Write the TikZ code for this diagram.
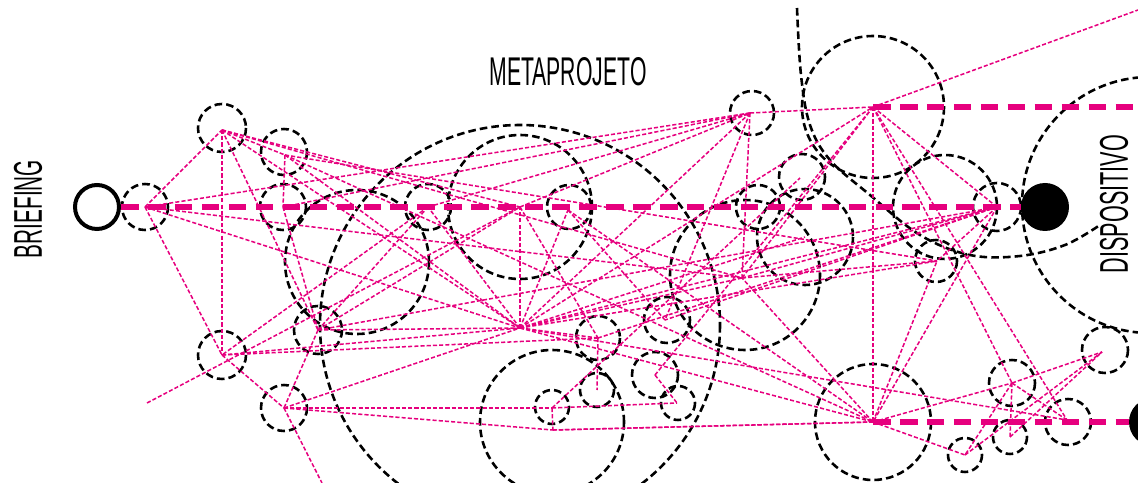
\documentclass[tikz,border=0pt]{standalone}
\usepackage{fontspec}
\setmainfont{Liberation Sans}
\usepackage{graphicx}
\definecolor{pk}{RGB}{230,0,126}
\begin{document}
\begin{tikzpicture}[x=0.03cm,y=-0.03cm,
  blk/.style={draw=black,line width=2.2pt,dash pattern=on 6.5pt off 3.5pt},
  pkl/.style={draw=pk,line width=1.3pt,dash pattern=on 3.5pt off 1.8pt},
  pkt/.style={draw=pk,line width=4.5pt,dash pattern=on 15pt off 8pt},
  lbl/.style={inner sep=0pt,text=black},
  endc/.style={circle,draw=black,inner sep=0pt,minimum size=1.32cm,line width=3.4pt},
  endf/.style={circle,fill=black,inner sep=0pt,minimum size=1.44cm}]
\useasboundingbox (0,0) rectangle (1138,483);
\clip (0,0) rectangle (1138,483);
% hubs
\coordinate (A) at (145,207);
\coordinate (B) at (222,130);
\coordinate (C) at (285,155);
\coordinate (D) at (283,207);
\coordinate (E) at (222,355);
\coordinate (F) at (318,330);
\coordinate (G) at (284,408);
\coordinate (H) at (520,328);
\coordinate (I) at (520,207);
\coordinate (J) at (568,210);
\coordinate (K) at (428,207);
\coordinate (L) at (750,113);
\coordinate (M) at (873,107);
\coordinate (N) at (997,207);
\coordinate (O) at (873,422);
\coordinate (P) at (1012,383);
\coordinate (Q) at (965,455);
\coordinate (R) at (1102,352);
\coordinate (S) at (1010,437);
\coordinate (T) at (1067,420);
\coordinate (V) at (742,278);
\coordinate (W) at (598,338);
\coordinate (W2) at (597,390);
\coordinate (X) at (665,320);
\coordinate (Y) at (552,408);
\coordinate (Y2) at (553,430);
\coordinate (Z) at (655,375);
\coordinate (Z2) at (677,403);
\coordinate (U) at (937,261);
\coordinate (U2) at (805,237);
\coordinate (U3) at (800,178);
\coordinate (e1) at (147,403);
\coordinate (e2) at (322,483);
\coordinate (e3) at (1138,10);
\coordinate (e4) at (1138,107);
% black dashed circles
\foreach \cx/\cy/\r in {145/207/23,222/128/24,284/152/23,283/207/23,222/355/24,318/330/24,284/408/23,
  428/207/23,569/207/22,752/113/22,758/207/22,802/177/23,667/320/23,598/338/22,655/375/23,
  997/207/24,936/261/21,1012/383/23,1105/350/23,1068/422/23,
  597/390/17,552/407/17,678/403/17,1010/437/17,965/455/17,
  520/325/200,520/207/72,357/262/72,552/422/72,745/275/75,805/237/48,873/107/71,945/207/52,873/422/58,1150/205/128}
  \draw[blk] (\cx,\cy) circle (\r);
\draw[blk] plot[smooth,tension=0.6] coordinates {(797,8) (801,75) (810,125) (830,160) (870,195) (920,235) (970,255) (1020,256) (1065,245) (1100,225)};
% pink thin connectors
\foreach \a/\b in {A/B,A/E,A/H,A/V,B/C,B/E,B/H,B/V,B/F,B/I,C/D,C/O,C/H,C/U,D/F,D/L,
  E/G,E/H,E/W,F/H,F/G,F/I,F/K,F/N,G/H,G/Y,G/Y2,G/e2,
  H/I,H/K,H/J,H/L,H/M,H/N,H/V,H/O,H/W,H/U2,H/U,H/T,
  I/L,I/W,J/X,J/O,K/L,L/M,L/A,L/V,L/X,
  M/e3,M/O,M/N,M/T,M/P,M/V,M/Z,N/V,N/X,N/W,N/U,N/O,
  O/Q,O/P,O/V,O/U,O/Y2,Y2/O,P/R,P/Q,P/S,P/T,Q/R,S/R,
  W/W2,Y/Y2,Y/Z2,Y/U3,Z/Z2,V/U,K/E}
  \draw[pkl] (\a) -- (\b);
\draw[pkl] (e1) -- (I);
% end circles and thick lines
\node[endc] (brf) at (97,207) {};
\node[endf] (dsp) at (1045,207) {};
\node[endf] (dsp2) at (1153,422) {};
\draw[pkt] (brf.east) -- (dsp.west);
\draw[pkt] (M) -- (e4);
\draw[pkt] (O) -- (dsp2.west);
% labels
\node[lbl] (meta) at (568,72) {\resizebox{4.71cm}{0.84cm}{METAPROJETO}};
\node[lbl,rotate=90] (brief) at (28,209) {\resizebox{2.94cm}{0.84cm}{BRIEFING}};
\node[lbl,rotate=90] (disp) at (1114,204) {\resizebox{4.14cm}{0.84cm}{DISPOSITIVO}};
\end{tikzpicture}
\end{document}
